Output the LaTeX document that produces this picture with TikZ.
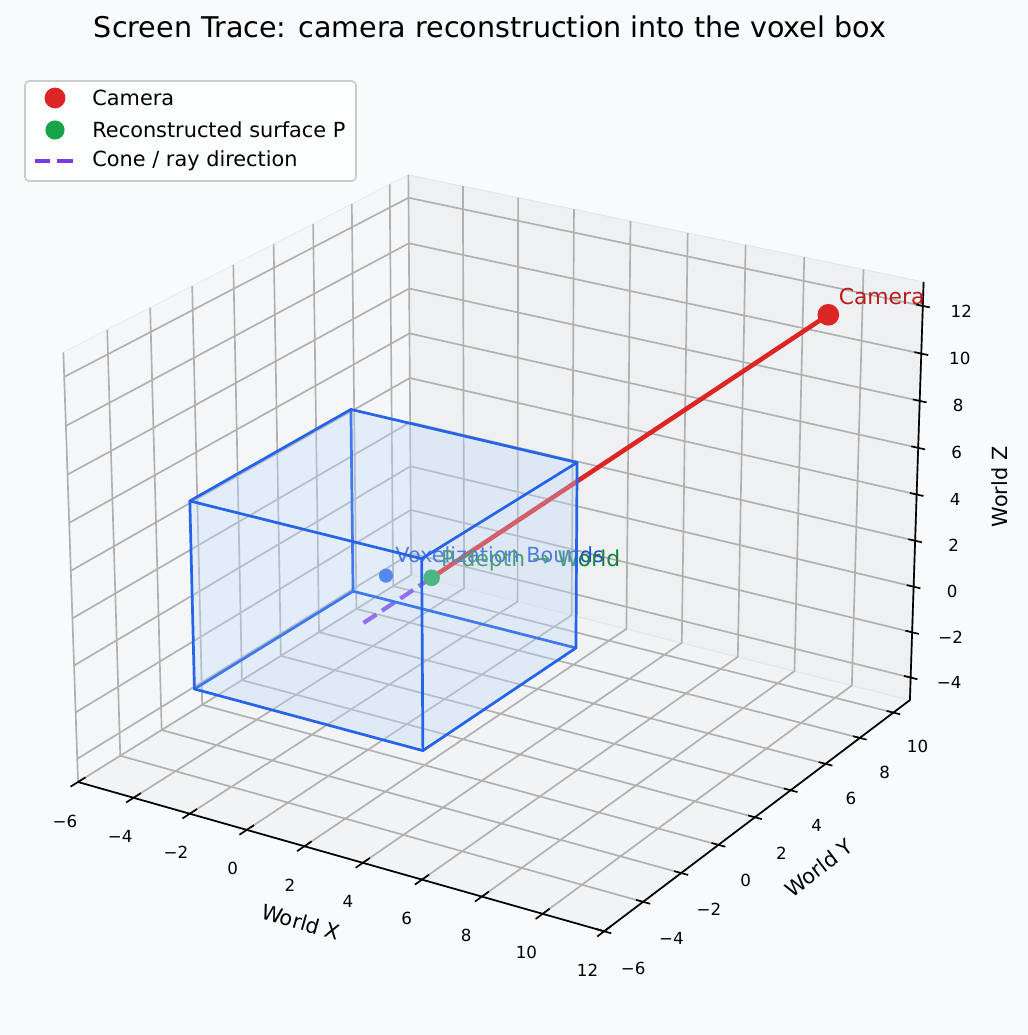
\documentclass[tikz,border=0pt]{standalone}
\usepackage{fontspec}
\setmainfont{DejaVu Sans}
\usetikzlibrary{calc}
\definecolor{bgcol}{HTML}{F8FAFC}
\definecolor{panex}{RGB}{245,246,247}
\definecolor{paney}{RGB}{239,240,241}
\definecolor{panez}{RGB}{242,243,244}
\definecolor{gridcol}{HTML}{B0B0B0}
\definecolor{camred}{HTML}{DC2626}
\definecolor{camtext}{HTML}{B91C1C}
\definecolor{ptgreen}{HTML}{16A34A}
\definecolor{ptgtext}{HTML}{15803D}
\definecolor{raypurple}{HTML}{7C3AED}
\definecolor{boxblue}{HTML}{2563EB}
\definecolor{boxfill}{HTML}{BFDBFE}
\definecolor{boxtext}{HTML}{1D4ED8}
% world point -> picture point (perspective view, elev 23, azim -58)
\newcommand{\wpt}[4]{%
  \pgfmathsetmacro{\wu}{(#2)-3}%
  \pgfmathsetmacro{\wv}{(#3)-2.5}%
  \pgfmathsetmacro{\ww}{(#4)-4}%
  \pgfmathsetmacro{\wden}{10-0.03097*(\wu)+0.05248*(\wv)-0.01861*(\ww)}%
  \pgfmathsetmacro{\wx}{500.8+(289.1*(\wu)+191.3*(\wv))/\wden}%
  \pgfmathsetmacro{\wy}{532-(-70.56*(\wu)+119.6*(\wv)+235.4*(\ww))/\wden}%
  \coordinate (#1) at (\wx,\wy);%
}

\begin{document}
\begin{tikzpicture}[x=0.48pt, y=-0.48pt,
  gridline/.style={draw=gridcol, line width=0.8pt},
  axisline/.style={draw=black, line width=0.8pt},
  ticklabel/.style={font=\fontsize{8}{9.6}\selectfont, inner sep=0pt},
  axislabel/.style={font=\fontsize{10}{12}\selectfont, inner sep=0pt},
  annot/.style={font=\fontsize{10}{12}\selectfont, inner sep=0pt, anchor=base west},
  boxface/.style={fill=boxfill, fill opacity=0.18},
  boxedge/.style={draw=boxblue, line width=1.3pt, line join=round, line cap=round},
  legtext/.style={font=\fontsize{10}{12}\selectfont, inner sep=0pt, anchor=west}]
\fill[bgcol] (0,0) rectangle (1028,1035);

% panes
\wpt{c000}{-6}{-6}{-5} \wpt{c100}{12}{-6}{-5} \wpt{c110}{12}{11}{-5} \wpt{c010}{-6}{11}{-5}
\wpt{c001}{-6}{-6}{13} \wpt{c101}{12}{-6}{13} \wpt{c111}{12}{11}{13} \wpt{c011}{-6}{11}{13}
\filldraw[fill=panez, draw=panez!95!black, line width=0.4pt] (c000) -- (c100) -- (c110) -- (c010) -- cycle;
\filldraw[fill=panex, draw=panex!95!black, line width=0.4pt] (c000) -- (c010) -- (c011) -- (c001) -- cycle;
\filldraw[fill=paney, draw=paney!95!black, line width=0.4pt] (c010) -- (c110) -- (c111) -- (c011) -- cycle;

% grid
\foreach \gx in {-6,-4,...,12} {
  \wpt{g1}{\gx}{-6}{-5}\wpt{g2}{\gx}{11}{-5}\wpt{g3}{\gx}{11}{13}
  \draw[gridline] (g1) -- (g2) -- (g3);
}
\foreach \gy in {-6,-4,...,10} {
  \wpt{g1}{12}{\gy}{-5}\wpt{g2}{-6}{\gy}{-5}\wpt{g3}{-6}{\gy}{13}
  \draw[gridline] (g1) -- (g2) -- (g3);
}
\foreach \gz in {-4,-2,...,12} {
  \wpt{g1}{-6}{-6}{\gz}\wpt{g2}{-6}{11}{\gz}\wpt{g3}{12}{11}{\gz}
  \draw[gridline] (g1) -- (g2) -- (g3);
}

% axes, ticks, tick labels
\draw[axisline] (c000) -- (c100) -- (c110) -- (c111);
\foreach \gx/\lab in {-6/−6,-4/−4,-2/−2,0/0,2/2,4/4,6/6,8/8,10/10,12/12} {
  \wpt{t1}{\gx}{-5.65}{-5}\wpt{t2}{\gx}{-6.35}{-5}\wpt{t0}{\gx}{-6}{-5}
  \draw[axisline] (t1) -- (t2);
  \pgfmathsetmacro\lx{-13-0.2*(\gx+6)}
  \node[ticklabel] (xtick\gx) at ([shift={(\lx,39)}]t0) {\lab};
}
\foreach \gy/\lab in {-6/−6,-4/−4,-2/−2,0/0,2/2,4/4,6/6,8/8,10/10} {
  \wpt{t1}{11.77}{\gy}{-5}\wpt{t2}{12.23}{\gy}{-5}\wpt{t0}{12}{\gy}{-5}
  \draw[axisline] (t1) -- (t2);
  \pgfmathsetmacro\lx{29-0.3*(\gy+6)}
  \pgfmathsetmacro\ly{37-0.18*(\gy+6)}
  \node[ticklabel] (ytick\gy) at ([shift={(\lx,\ly)}]t0) {\lab};
}
\foreach \gz/\lab in {-4/−4,-2/−2,0/0,2/2,4/4,6/6,8/8,10/10,12/12} {
  \wpt{t1}{11.77}{11}{\gz}\wpt{t2}{12.23}{11}{\gz}\wpt{t0}{12}{11}{\gz}
  \draw[axisline] (t1) -- (t2);
  \node[ticklabel] (ztick\gz) at ([shift={(38.5,5)}]t0) {\lab};
}
\wpt{xmid}{3}{-6}{-5} \wpt{ymid}{12}{2.5}{-5} \wpt{zmid}{12}{11}{4}
\node[axislabel, rotate=-15.8] (xlabel) at ([shift={(-32.5,67.5)}]xmid) {World X};
\node[axislabel, rotate=37.2] (ylabel) at ([shift={(55,57.5)}]ymid) {World Y};
\node[axislabel, rotate=90] (zlabel) at ([shift={(83.4,-7.5)}]zmid) {World Z};

% camera ray and points
\wpt{cam}{10}{9}{12} \wpt{surfP}{1.6}{1}{2.4} \wpt{rayend}{0.09}{-0.44}{0.67} \wpt{boxc}{0}{1}{2}
\draw[camred, line width=2.2pt] (cam) -- (surfP);
\draw[raypurple, line width=2pt, dash pattern=on 7.4pt off 3.2pt] (surfP) -- (rayend);
\fill[camred] (cam) circle[radius=5.2pt];
\fill[ptgreen] (surfP) circle[radius=4pt];
\fill[boxblue] (boxc) circle[radius=3.4pt];
\node[annot, text=camtext, font=\fontsize{10.5}{12}\selectfont] (camlabel) at ([shift={(10,-10)}]cam) {Camera};
\node[annot, text=boxtext] (boxlabel) at ([shift={(9,-13)}]boxc) {Voxelization Bounds};
\node[annot, text=ptgtext, font=\fontsize{10.5}{12}\selectfont] (plabel) at ([shift={(9,-11)}]surfP) {P-depth → World};

% voxel box
\wpt{b000}{-4}{-3}{-2} \wpt{b100}{4}{-3}{-2} \wpt{b110}{4}{5}{-2} \wpt{b010}{-4}{5}{-2}
\wpt{b001}{-4}{-3}{6} \wpt{b101}{4}{-3}{6} \wpt{b111}{4}{5}{6} \wpt{b011}{-4}{5}{6}
\fill[boxface] (b000) -- (b010) -- (b011) -- (b001) -- cycle;
\fill[boxface] (b010) -- (b110) -- (b111) -- (b011) -- cycle;
\fill[boxface] (b000) -- (b100) -- (b110) -- (b010) -- cycle;
\draw[boxedge] (b000) -- (b010) -- (b110) (b010) -- (b011);
\fill[boxface] (b100) -- (b110) -- (b111) -- (b101) -- cycle;
\fill[boxface] (b000) -- (b100) -- (b101) -- (b001) -- cycle;
\fill[boxface] (b001) -- (b101) -- (b111) -- (b011) -- cycle;
\draw[boxedge] (b000) -- (b100) -- (b110) -- (b111) -- (b011) -- (b001) -- cycle;
\draw[boxedge] (b001) -- (b101) -- (b100) (b101) -- (b111);

% title and legend
\node[font=\fontsize{13.7}{16}\selectfont, inner sep=0pt] (title) at (490,27) {Screen Trace: camera reconstruction into the voxel box};
\filldraw[fill=white, fill opacity=0.8, draw=black!20, line width=0.8pt, rounded corners=2pt] (25,81) rectangle (356,181);
\fill[camred] (55,98) circle[radius=5pt];
\fill[ptgreen] (55,130) circle[radius=4.6pt];
\draw[raypurple, line width=2pt, dash pattern=on 7.4pt off 3.2pt] (35,161) -- (75,161);
\node[legtext] (legcam) at (92,98) {Camera};
\node[legtext] (legsurf) at (92,130) {Reconstructed surface P};
\node[legtext] (legray) at (92,161) {Cone / ray direction};
\end{tikzpicture}
\end{document}
